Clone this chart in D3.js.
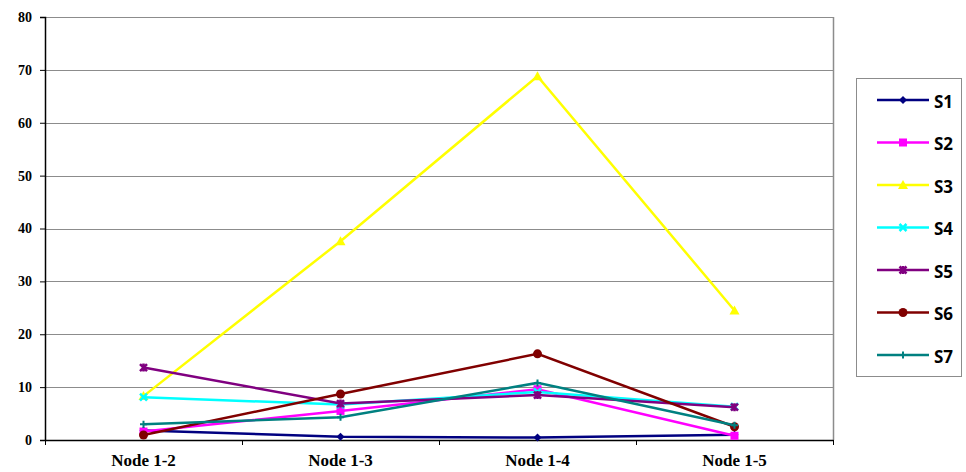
<!DOCTYPE html>
<html>
<head>
<meta charset="utf-8">
<script src="https://cdn.jsdelivr.net/npm/d3@7"></script>
<style>
  html, body { margin: 0; padding: 0; background: #fff; }
  svg { display: block; }
</style>
</head>
<body>
<svg id="chart" width="966" height="472"></svg>
<script>
// Categories along the x axis
const categories = ["Node 1-2", "Node 1-3", "Node 1-4", "Node 1-5"];
const seriesNames = ["S1", "S2", "S3", "S4", "S5", "S6", "S7"];
const yTicks = [0, 10, 20, 30, 40, 50, 60, 70, 80];

// Series values, one per category
const s1 = [1.8, 0.6, 0.45, 1.0];
const s2 = [1.6, 5.5, 9.6, 0.8];
const s3 = [8.3, 37.6, 68.8, 24.5];
const s4 = [8.1, 6.7, 9.1, 6.3];
const s5 = [13.7, 6.9, 8.5, 6.2];
const s6 = [0.95, 8.7, 16.3, 2.5];
const s7 = [3.0, 4.3, 10.8, 2.8];
const seriesValues = [s1, s2, s3, s4, s5, s6, s7];

const colors = ["#000080", "#ff00ff", "#ffff00", "#00ffff", "#800080", "#800000", "#008080"];
const markers = ["diamond", "square", "triangle", "cross", "star", "circle", "plus"];

const svg = d3.select("#chart");
const margin = { left: 45, top: 17, right: 133, bottom: 32 };
const W = 966, H = 472;
const x0 = margin.left, x1 = W - margin.right;
const y0 = H - margin.bottom, y1 = margin.top;

const x = d3.scaleBand().domain(categories).range([x0, x1]);
const y = d3.scaleLinear().domain([0, 80]).range([y0, y1]);

// Gridlines
svg.append("g").selectAll("line").data(yTicks.filter(d => d > 0)).join("line")
  .attr("x1", x0).attr("x2", x1)
  .attr("y1", d => Math.round(y(d)) + 0.5).attr("y2", d => Math.round(y(d)) + 0.5)
  .attr("stroke", "#8c8c8c").attr("stroke-width", 1);

// Right border of the plot area
svg.append("line").attr("x1", x1 + 0.5).attr("x2", x1 + 0.5)
  .attr("y1", y1).attr("y2", y0).attr("stroke", "#8c8c8c").attr("stroke-width", 1.5);

// Y axis
const yAxis = d3.axisLeft(y).tickValues(yTicks).tickSize(5).tickPadding(8);
const gy = svg.append("g").attr("transform", `translate(${x0},0)`).call(yAxis);
gy.select(".domain").attr("stroke", "#000").attr("stroke-width", 1.5);
gy.selectAll(".tick line").attr("stroke", "#000");
gy.selectAll("text").attr("font-family", "Liberation Serif, serif")
  .attr("font-weight", "bold").attr("font-size", 14).attr("fill", "#000");

// X axis with tick marks on category boundaries
const xAxis = d3.axisBottom(x).tickSize(0).tickPadding(14);
const gx = svg.append("g").attr("transform", `translate(0,${y0})`).call(xAxis);
gx.select(".domain").attr("stroke", "#000").attr("stroke-width", 1.5);
gx.selectAll("text").attr("font-family", "Liberation Serif, serif")
  .attr("font-weight", "bold").attr("font-size", 17).attr("fill", "#000");
const bounds = categories.map(c => x(c)).concat([x1]);
gx.selectAll(".bound").data(bounds).join("line").attr("class", "bound")
  .attr("x1", d => d + 0.5).attr("x2", d => d + 0.5)
  .attr("y1", 0).attr("y2", 5).attr("stroke", "#000");

const cx = c => x(c) + x.bandwidth() / 2;

function drawMarker(g, type, color, px, py) {
  switch (type) {
    case "diamond":
      g.append("path").attr("d", `M${px},${py - 4}L${px + 4},${py}L${px},${py + 4}L${px - 4},${py}Z`).attr("fill", color);
      break;
    case "square":
      g.append("rect").attr("x", px - 4).attr("y", py - 4).attr("width", 8).attr("height", 8).attr("fill", color);
      break;
    case "triangle":
      g.append("path").attr("d", `M${px},${py - 5}L${px + 5},${py + 4}L${px - 5},${py + 4}Z`).attr("fill", color);
      break;
    case "cross":
      g.append("path").attr("d", `M${px - 3.5},${py - 3.5}L${px + 3.5},${py + 3.5}M${px + 3.5},${py - 3.5}L${px - 3.5},${py + 3.5}`)
        .attr("stroke", color).attr("stroke-width", 2.5);
      break;
    case "star":
      g.append("path").attr("d", `M${px - 3.5},${py - 3.5}L${px + 3.5},${py + 3.5}M${px + 3.5},${py - 3.5}L${px - 3.5},${py + 3.5}M${px},${py - 4}L${px},${py + 4}`)
        .attr("stroke", color).attr("stroke-width", 2.5);
      break;
    case "circle":
      g.append("circle").attr("cx", px).attr("cy", py).attr("r", 4.5).attr("fill", color);
      break;
    case "plus":
      g.append("path").attr("d", `M${px - 3.5},${py}L${px + 3.5},${py}M${px},${py - 3.5}L${px},${py + 3.5}`)
        .attr("stroke", color).attr("stroke-width", 2);
      break;
  }
}

// Series lines and markers
const line = d3.line().x((d, i) => cx(categories[i])).y(d => y(d));
seriesValues.forEach((vals, si) => {
  const g = svg.append("g");
  g.append("path").datum(vals).attr("d", line)
    .attr("fill", "none").attr("stroke", colors[si]).attr("stroke-width", 2.5);
  vals.forEach((v, i) => drawMarker(g, markers[si], colors[si], cx(categories[i]), y(v)));
});

// Legend
const lg = svg.append("g");
lg.append("rect").attr("x", 856.5).attr("y", 78.5).attr("width", 105).attr("height", 298)
  .attr("fill", "#fff").attr("stroke", "#8c8c8c").attr("stroke-width", 1);
seriesNames.forEach((name, i) => {
  const ly = 100 + i * 42.5;
  lg.append("line").attr("x1", 877).attr("x2", 929).attr("y1", ly).attr("y2", ly)
    .attr("stroke", colors[i]).attr("stroke-width", 2.5);
  drawMarker(lg, markers[i], colors[i], 903, ly);
  lg.append("text").attr("x", 934).attr("y", ly + 7.5).text(name)
    .attr("font-family", "Open Sans, sans-serif").attr("font-weight", "bold")
    .attr("font-size", 17).attr("fill", "#000");
});
</script>
</body>
</html>
